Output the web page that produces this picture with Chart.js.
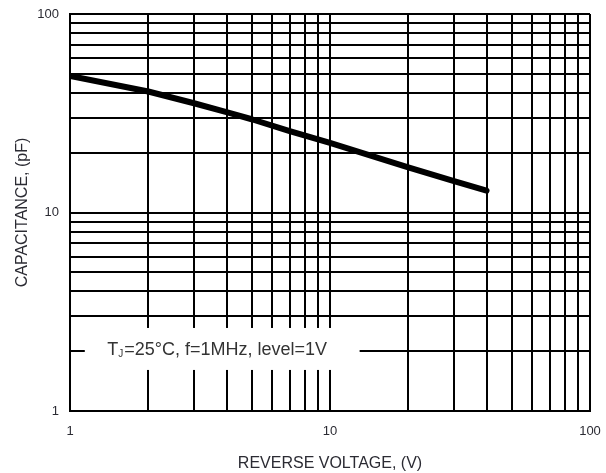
<!DOCTYPE html>
<html>
<head>
<meta charset="utf-8">
<script src="https://cdn.jsdelivr.net/npm/chart.js@4/dist/chart.umd.min.js"></script>
<style>
  html, body { margin: 0; padding: 0; background: #fff; }
  #wrap { width: 606px; height: 473px; }
</style>
</head>
<body>
<div id="wrap"><canvas id="capChart" width="606" height="473"></canvas></div>
<script>
// données
const voltage = [1, 2, 3, 4, 5, 7, 10, 20, 30, 40];
const capacitance = [48.8, 40.7, 35.5, 32, 29.5, 25.7, 22.4, 16.9, 14.4, 12.9];

// lignes de grille (log) et étiquettes
const gridValues = [1, 2, 3, 4, 5, 6, 7, 8, 9, 10, 20, 30, 40, 50, 60, 70, 80, 90, 100];
const labelValues = [1, 10, 100];

const noteText = 'T';
const noteSub = 'J';
const noteRest = '=25°C, f=1MHz, level=1V';

const FONT = "'Liberation Sans', Arial, sans-serif";
const TEXT_COLOR = '#2b2b33';

// boîte blanche + texte de conditions
const notePlugin = {
    id: 'note',
    beforeDatasetsDraw(chart) {
        const { ctx, scales: { x, y } } = chart;
        const x0 = x.getPixelForValue(1.14);
        const x1 = x.getPixelForValue(13);
        const y0 = y.getPixelForValue(2.62);
        const y1 = y.getPixelForValue(1.61);
        ctx.save();
        ctx.fillStyle = '#fff';
        ctx.fillRect(x0, y0, x1 - x0, y1 - y0);
        const tx = x.getPixelForValue(1.39);
        const ty = y.getPixelForValue(2.03);
        ctx.fillStyle = '#333';
        ctx.textBaseline = 'middle';
        ctx.font = '18px ' + FONT;
        ctx.fillText(noteText, tx, ty);
        let w = ctx.measureText(noteText).width;
        ctx.font = '10px ' + FONT;
        ctx.fillText(noteSub, tx + w, ty + 4);
        w += ctx.measureText(noteSub).width + 1;
        ctx.font = '18px ' + FONT;
        ctx.fillText(noteRest, tx + w, ty);
        ctx.restore();
    }
};

function logAxis(title, extra) {
    return {
        type: 'logarithmic',
        min: 1,
        max: 100,
        afterBuildTicks: scale => {
            scale.ticks = gridValues.map(v => ({ value: v }));
        },
        grid: {
            color: '#000',
            lineWidth: 2,
            drawTicks: false
        },
        border: { color: '#000', width: 2 },
        ...extra,
        ticks: {
            autoSkip: false,
            maxRotation: 0,
            color: TEXT_COLOR,
            font: { family: FONT, size: 13 },
            callback: value => labelValues.includes(value) ? String(value) : '',
            ...extra.ticks
        },
        title: {
            display: true,
            text: title,
            color: TEXT_COLOR,
            font: { family: FONT, size: 16 },
            ...extra.title
        }
    };
}

function initChart() {
    const canvas = document.getElementById('capChart');
    new Chart(canvas.getContext('2d'), {
        type: 'line',
        data: {
            labels: voltage,
            datasets: [{
                data: voltage.map((v, i) => ({ x: v, y: capacitance[i] })),
                borderColor: '#000',
                borderWidth: 6,
                borderCapStyle: 'round',
                borderJoinStyle: 'round',
                pointRadius: 0,
                tension: 0,
                fill: false
            }]
        },
        options: {
            responsive: false,
            animation: false,
            layout: { padding: { top: 14, right: 16, left: 0, bottom: 0 } },
            plugins: {
                legend: { display: false },
                tooltip: { enabled: false }
            },
            scales: {
                x: logAxis('REVERSE VOLTAGE, (V)', {
                    afterFit: s => {
                        s.height = 62;
                        s.paddingLeft = 0;
                        s.paddingRight = 0;
                    },
                    ticks: { padding: 13 },
                    title: { padding: { top: 0, bottom: 0 } }
                }),
                y: logAxis('CAPACITANCE, (pF)', {
                    afterFit: s => {
                        s.width = 70;
                        s.paddingTop = 0;
                        s.paddingBottom = 0;
                    },
                    ticks: { padding: 11 },
                    title: { padding: { top: 13, bottom: 0 } }
                })
            }
        },
        plugins: [notePlugin]
    });
}

if (document.readyState === 'complete') {
    initChart();
} else {
    window.addEventListener('load', initChart);
}
</script>
</body>
</html>
